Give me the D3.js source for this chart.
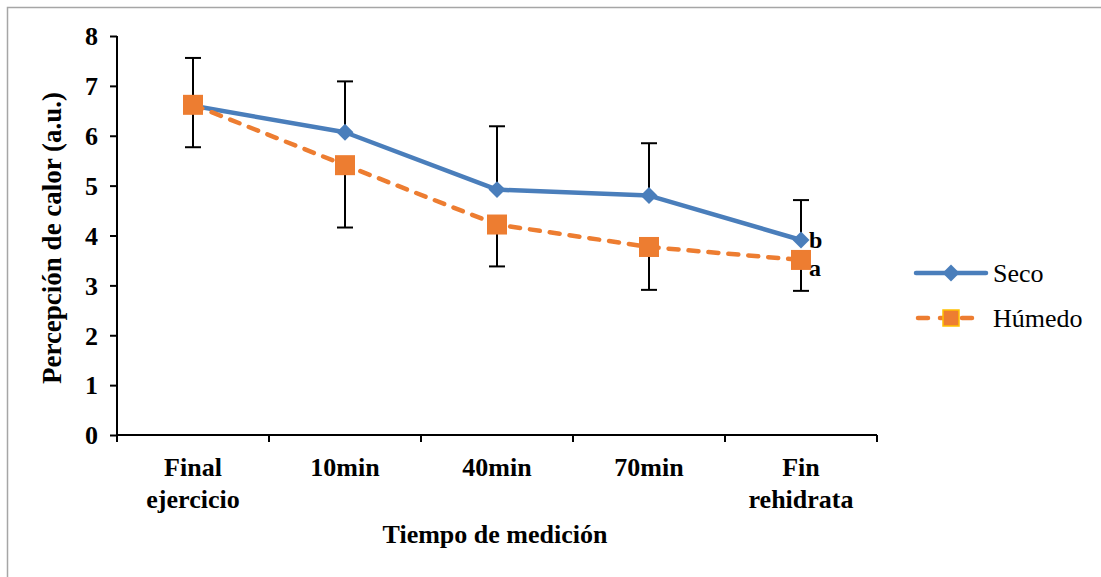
<!DOCTYPE html>
<html>
<head>
<meta charset="utf-8">
<title></title>
<style>
  body { margin: 0; background: #fff; }
  text { font-family: "Liberation Serif", "Times New Roman", serif; fill: #000; }
</style>
</head>
<body>
<script src="https://d3js.org/d3.v7.min.js"></script>
<script type="text/javascript">

var categories = ["Final ejercicio", "10min", "40min", "70min", "Fin rehidrata"];
var tickLines  = [["Final", "ejercicio"], ["10min"], ["40min"], ["70min"], ["Fin", "rehidrata"]];
var seco       = [6.60, 6.07, 4.92, 4.80, 3.91];
var secoErr    = [0.96, 1.02, 1.27, 1.05, 0.80];   // upper bars
var humedo     = [6.62, 5.41, 4.22, 3.77, 3.51];
var humedoErr  = [0.85, 1.25, 0.84, 0.86, 0.62];   // lower bars
var yTicks     = [0, 1, 2, 3, 4, 5, 6, 7, 8];
var letters    = [{serie: "seco", label: "b"}, {serie: "humedo", label: "a"}];

var W = 1101, H = 577;
var margin = {top: 36, left: 117},
    width  = 760,
    height = 399;

var svg = d3.select("body").append("svg")
    .attr("width", W)
    .attr("height", H);

// outer frame
svg.append("path")
    .attr("d", "M7.5," + H + " V7.5 H" + W)
    .style("fill", "none")
    .style("stroke", "#a6a6a6")
    .style("stroke-width", "1.5px");

var chart = svg.append("g")
    .attr("transform", "translate(" + margin.left + "," + margin.top + ")");

var x = d3.scaleBand().domain(categories).range([0, width]);
var y = d3.scaleLinear().domain([0, 8]).range([height, 0]);
var cx = function(i) { return x(categories[i]) + x.bandwidth() / 2; };

// y axis
var yAxis = chart.append("g")
    .call(d3.axisLeft(y).tickValues(yTicks).tickSize(7).tickPadding(12).tickFormat(d3.format("d")));
yAxis.select(".domain").attr("d", "M0,0V" + height).style("stroke-width", "2px");
yAxis.selectAll(".tick line").style("stroke-width", "2px");
yAxis.selectAll("text")
    .attr("dy", "0.34em")
    .style("font-size", "26px").style("font-weight", "bold")
    .style("font-family", "Liberation Serif");

// x axis
var xAxis = chart.append("g")
    .attr("transform", "translate(0," + height + ")")
    .call(d3.axisBottom(x).tickSize(0).tickFormat(""));
xAxis.select(".domain").attr("d", "M0,0H" + width).style("stroke-width", "2px");
xAxis.selectAll(".tick").remove();

var bounds = categories.map(function(c) { return x(c); }).concat([width]);
xAxis.selectAll(".bt").data(bounds).enter().append("line")
    .attr("x1", function(d) { return d; }).attr("x2", function(d) { return d; })
    .attr("y1", 0).attr("y2", 7)
    .style("stroke", "#000").style("stroke-width", "2px");

var lab = xAxis.selectAll(".xl").data(tickLines).enter().append("text")
    .attr("x", function(d, i) { return cx(i); })
    .attr("y", 41)
    .style("text-anchor", "middle")
    .style("fill", "#000")
    .style("font-size", "26px").style("font-weight", "bold");
lab.selectAll("tspan").data(function(d) { return d; }).enter().append("tspan")
    .attr("x", function() { return d3.select(this.parentNode).attr("x"); })
    .attr("dy", function(d, i) { return i ? 32 : 0; })
    .text(function(d) { return d; });

// axis titles
svg.append("text")
    .attr("x", 495).attr("y", 543)
    .style("text-anchor", "middle")
    .style("font-size", "26px").style("font-weight", "bold")
    .text("Tiempo de medición");

svg.append("text")
    .attr("transform", "translate(61,238) rotate(-90)")
    .style("text-anchor", "middle")
    .style("font-size", "27px").style("font-weight", "bold")
    .text("Percepción de calor (a.u.)");

// error bars
function errBars(vals, errs, dir) {
    var g = chart.append("g");
    vals.forEach(function(v, i) {
        var y2 = y(v + dir * errs[i]);
        g.append("line").attr("x1", cx(i)).attr("x2", cx(i))
            .attr("y1", y(v)).attr("y2", y2)
            .style("stroke", "#000").style("stroke-width", "2px");
        g.append("line").attr("x1", cx(i) - 8).attr("x2", cx(i) + 8)
            .attr("y1", y2).attr("y2", y2)
            .style("stroke", "#000").style("stroke-width", "2px");
    });
}
errBars(seco, secoErr, 1);
errBars(humedo, humedoErr, -1);

var line = d3.line()
    .x(function(d, i) { return cx(i); })
    .y(function(d) { return y(d); });

// Seco
chart.append("path").datum(seco)
    .attr("d", line)
    .style("fill", "none").style("stroke", "#4a7ebb").style("stroke-width", "4.5px")
    .style("stroke-linejoin", "round");
chart.selectAll(".dia").data(seco).enter().append("path")
    .attr("transform", function(d, i) { return "translate(" + cx(i) + "," + y(d) + ") rotate(45)"; })
    .attr("d", "M-6,-6H6V6H-6Z")
    .style("fill", "#4a7ebb");

// Húmedo
chart.append("path").datum(humedo)
    .attr("d", line)
    .style("fill", "none").style("stroke", "#ed7d31").style("stroke-width", "4.5px")
    .style("stroke-dasharray", "10,10").style("stroke-linecap", "round");
chart.selectAll(".sq").data(humedo).enter().append("rect")
    .attr("x", function(d, i) { return cx(i) - 10; })
    .attr("y", function(d) { return y(d) - 10; })
    .attr("width", 20).attr("height", 20)
    .style("fill", "#ed7d31");

// significance letters
var last = categories.length - 1;
chart.selectAll(".let").data(letters).enter().append("text")
    .attr("x", cx(last) + 8)
    .attr("y", function(d) { return y(d.serie === "seco" ? seco[last] : humedo[last]) + (d.serie === "seco" ? 8 : 16); })
    .style("font-size", "24px").style("font-weight", "bold")
    .text(function(d) { return d.label; });

// legend
var legend = svg.append("g").attr("transform", "translate(916,0)");
legend.append("line").attr("x1", 0).attr("x2", 70).attr("y1", 273).attr("y2", 273)
    .style("stroke", "#4a7ebb").style("stroke-width", "4.5px").style("stroke-linecap", "round");
legend.append("path").attr("transform", "translate(35,273) rotate(45)")
    .attr("d", "M-6,-6H6V6H-6Z").style("fill", "#4a7ebb");
legend.append("text").attr("x", 77).attr("y", 282)
    .style("font-size", "26px").text("Seco");

legend.append("line").attr("x1", 2).attr("x2", 68).attr("y1", 318).attr("y2", 318)
    .style("stroke", "#ed7d31").style("stroke-width", "4.5px")
    .style("stroke-dasharray", "10,12").style("stroke-linecap", "round");
legend.append("rect").attr("x", 27).attr("y", 310).attr("width", 16).attr("height", 16)
    .style("fill", "#ed7d31").style("stroke", "#ffc000").style("stroke-width", "1.5px");
legend.append("text").attr("x", 77).attr("y", 327)
    .style("font-size", "26px").text("Húmedo");

</script>
</body>
</html>
